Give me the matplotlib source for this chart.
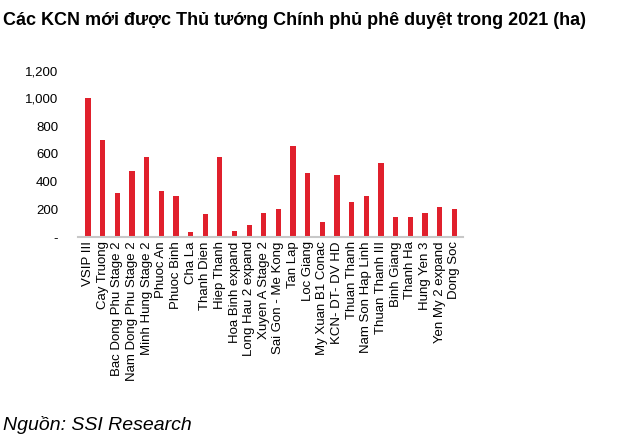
import matplotlib
matplotlib.use("Agg")
import matplotlib.pyplot as plt
from matplotlib.ticker import FuncFormatter

plt.rcParams['font.family'] = ['Liberation Sans', 'DejaVu Sans']

categories = ["VSIP III", "Cay Truong", "Bac Dong Phu Stage 2", "Nam Dong Phu Stage 2",
              "Minh Hung Stage 2", "Phuoc An", "Phuoc Binh", "Cha La", "Thanh Dien",
              "Hiep Thanh", "Hoa Binh expand", "Long Hau 2 expand", "Xuyen A Stage 2",
              "Sai Gon - Me Kong", "Tan Lap", "Loc Giang", "My Xuan B1 Conac",
              "KCN- DT- DV HD", "Thuan Thanh", "Nam Son Hap Linh", "Thuan Thanh III",
              "Binh Giang", "Thanh Ha", "Hung Yen 3", "Yen My 2 expand", "Dong Soc"]
values = [1000, 700, 320, 480, 580, 330, 300, 40, 165, 575, 45, 90, 175, 200,
          655, 465, 110, 450, 250, 300, 535, 145, 145, 175, 215, 205]
yticks = [0, 200, 400, 600, 800, 1000, 1200]

fig = plt.figure(figsize=(6.37, 4.45), dpi=100)
ax = fig.add_axes([0.122, 0.467, 0.605, 0.39])
x = range(len(categories))
ax.bar(x, values, width=0.36, color='#e0202c')
ax.set_xlim(-0.7, len(categories) - 0.4)
ax.set_ylim(0, 1250)
ax.set_yticks(yticks)
ax.yaxis.set_major_formatter(FuncFormatter(lambda v, p: '-' if v == 0 else f'{int(v):,}'))
ax.set_xticks(list(x))
ax.set_xticklabels(categories, rotation=90, fontsize=9.5)
ax.tick_params(axis='y', labelsize=9.5, length=0, pad=14)
ax.tick_params(axis='x', length=0, pad=3)
for s in ['top', 'right', 'left']:
    ax.spines[s].set_visible(False)
ax.spines['bottom'].set_color('#c8c8c8')
ax.spines['bottom'].set_linewidth(1.5)

fig.text(0.005, 0.955, "Các KCN mới được Thủ tướng Chính phủ phê duyệt trong 2021 (ha)",
         fontsize=13, fontweight='bold', va='center')
fig.text(0.005, 0.045, "Nguồn: SSI Research", fontsize=14, style='italic', va='center')
fig.savefig("out.png", dpi=100)
